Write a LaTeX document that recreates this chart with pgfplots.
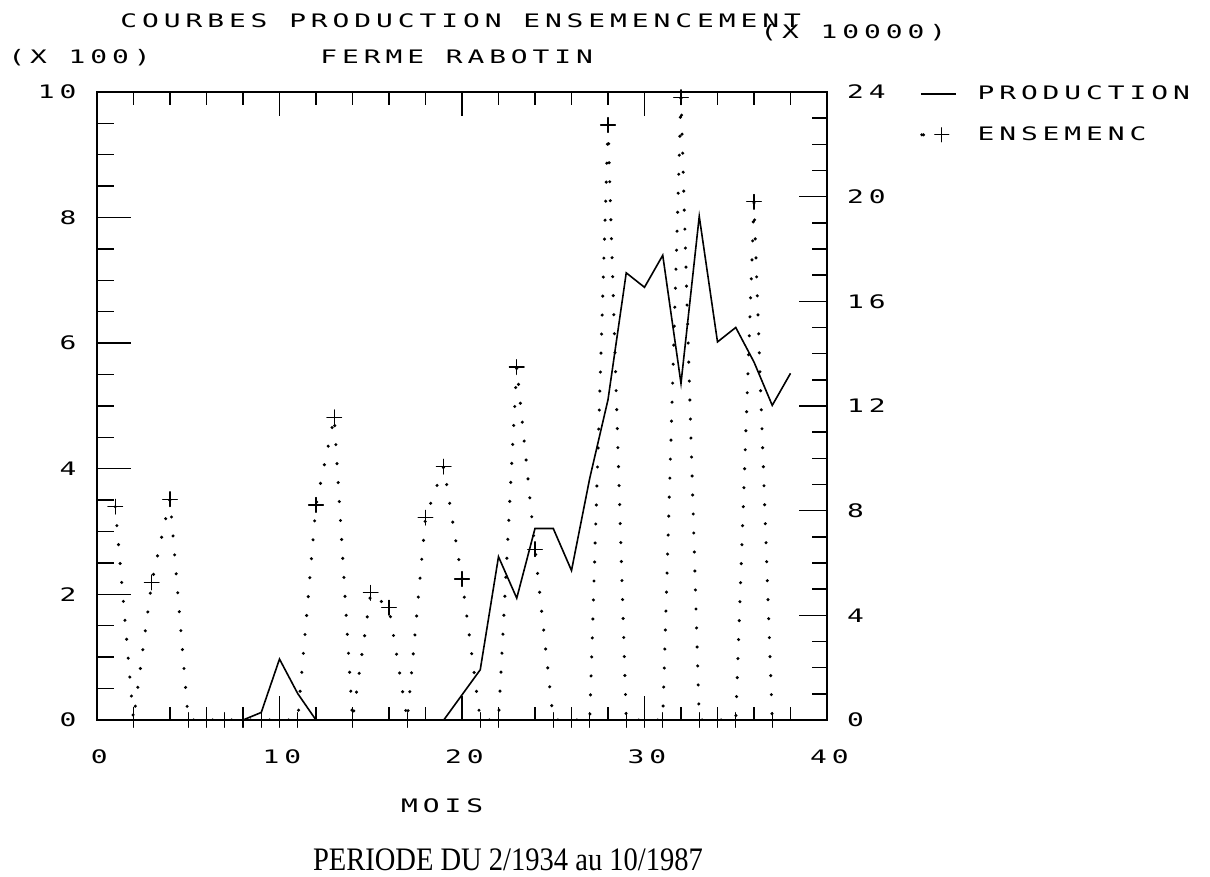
\documentclass[border=0pt]{standalone}
\usepackage{fontspec}
\usepackage{pgfplots}
\pgfplotsset{compat=1.18}
\usepackage{pgfplotstable}
\newfontfamily\plotfontfam[FakeStretch=1.5,LetterSpace=26.5]{DejaVu Sans Mono}
\newfontfamily\serfont[FakeStretch=0.87]{Liberation Serif}
\newcommand\pf{\plotfontfam\fontsize{9.3pt}{10pt}\selectfont}

\pgfplotstableread{
m prod
1 0
2 0
3 0
4 0
5 0
6 0
7 0
8 0
9 0.12
10 0.97
11 0.42
12 0
13 0
14 0
15 0
16 0
17 0
18 0
19 0
20 0.40
21 0.80
22 2.60
23 1.94
24 3.05
25 3.05
26 2.38
27 3.85
28 5.10
29 7.12
30 6.89
31 7.40
32 5.36
33 8.02
34 6.02
35 6.25
36 5.70
37 5.01
38 5.52
}\prodtable

\pgfplotstableread{
m ens
1 8.15
2 0
3 5.26
4 8.44
5 0
6 0
7 0
8 0
9 0
10 0
11 0
12 8.22
13 11.57
14 0
15 4.86
16 4.29
17 0
18 7.73
19 9.68
20 5.39
21 0
22 0
23 13.49
24 6.53
25 0
26 0
27 0
28 22.74
29 0
30 0
31 0
32 23.80
33 0
34 0
35 0
36 19.80
37 0
}\enstable

\begin{document}
\begin{tikzpicture}[x=1pt,y=1pt]
\useasboundingbox (-48.5,-78.5) rectangle (556.5,360);
\pgfplotsset{base/.style={at={(0,0)}, anchor=south west, scale only axis,
  width=365pt, height=314pt, xmin=0, xmax=40,
  tick align=inside, axis line style={line width=0.8pt},
  every tick/.style={black, line width=0.7pt},
  tick label style={font=\pf},
  /pgf/number format/assume math mode=true}}

% frame and x ticks
\begin{axis}[base, ymin=0, ymax=10,
  xtick={0,10,20,30,40}, minor xtick={2,4,...,38}, xtick pos=both,
  ytick=\empty, major tick length=12pt, minor tick length=6.5pt,
  xticklabel style={anchor=center, yshift=-18.5pt, xshift=1.2pt}]
\addplot[draw=none] coordinates {(0,0)};
\end{axis}

% left axis: production (x 100)
\begin{axis}[base, ymin=0, ymax=10,
  ytick={0,2,...,10}, minor ytick={0.5,1,...,9.5}, ytick pos=left,
  xtick=\empty, major tick length=17pt, minor tick length=8.5pt,
  yticklabel style={anchor=east, xshift=-6.8pt}]
\addplot[black, line width=0.8pt] table[x=m, y=prod] {\prodtable};
\end{axis}

% right axis: ensemencement (x 10000)
\begin{axis}[base, ymin=0, ymax=24,
  ytick={0,4,...,24}, minor ytick={1,...,23}, ytick pos=right,
  xtick=\empty, major tick length=14pt, minor tick length=7.5pt,
  yticklabel style={anchor=west, xshift=6.5pt},
  legend style={draw=none, fill=none, at={(rel axis cs:1,1)}, anchor=north west,
    xshift=45.5pt, yshift=3.3pt, inner sep=0pt, row sep=11.9pt, font=\pf,
    nodes={inner sep=0pt},
    /tikz/every odd column/.append style={column sep=10.5pt}},
  legend cell align=left]
\addlegendimage{black, line width=0.8pt,
  legend image code/.code={\draw[black, line width=0.8pt] (0pt,0pt) -- (17.5pt,0pt);}}
\addlegendentry{PRODUCTION}
\addplot[black, line width=1.7pt, line cap=round, dash pattern=on 0pt off 9.5pt,
  mark=+, mark size=3.7pt, mark options={solid, line width=0.6pt},
  legend image code/.code={\fill[black] (0.5pt,0pt) circle (0.85pt);
     \draw[black, line width=0.6pt, solid] (7pt,0pt) -- (14pt,0pt) (10.5pt,-3.5pt) -- (10.5pt,3.5pt);}]
  table[x=m, y=ens] {\enstable};
\addlegendentry{ENSEMENC}
\end{axis}

\node[anchor=base west, inner sep=0pt, font=\pf] at (11.5,346.25) {COURBES PRODUCTION ENSEMENCEMENT};
\node[anchor=base west, inner sep=0pt, font=\pf] at (331.5,340.75) {(X 10000)};
\node[anchor=base west, inner sep=0pt, font=\pf] at (-44.5,328.25) {(X 100)};
\node[anchor=base west, inner sep=0pt, font=\pf] at (111.5,328.25) {FERME RABOTIN};
\node[anchor=base, inner sep=0pt, font=\pf] at (172.6,-46.5) {MOIS};
\node[anchor=base, inner sep=0pt] at (205.5,-75.3) {\serfont\fontsize{16.4pt}{18pt}\selectfont PERIODE DU 2/1934 au 10/1987};
\end{tikzpicture}
\end{document}
